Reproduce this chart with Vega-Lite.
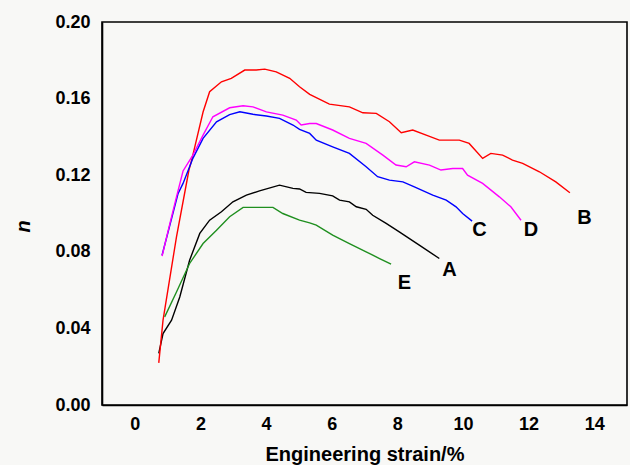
{
  "$schema": "https://vega.github.io/schema/vega-lite/v6.json",
  "width": 525,
  "height": 383,
  "autosize": {"type": "none"},
  "padding": {"left": 102, "top": 22, "right": 3, "bottom": 60},
  "background": "#f8f8f6",
  "config": {
    "view": {"stroke": "black", "strokeWidth": 1.6},
    "axis": {
      "grid": false,
      "ticks": false,
      "domainColor": "black",
      "domainWidth": 1.6,
      "labelFont": "Liberation Sans",
      "labelFontWeight": "bold",
      "labelFontSize": 18,
      "labelColor": "black",
      "titleFont": "Liberation Sans",
      "titleFontWeight": "bold",
      "titleFontSize": 20,
      "titleColor": "black"
    }
  },
  "datasets": {
    "curves": [
      {"c":"A","s":0.73,"n":0.027},{"c":"A","s":0.86,"n":0.0373},{"c":"A","s":1.12,"n":0.0443},{"c":"A","s":1.37,"n":0.0564},{"c":"A","s":1.67,"n":0.0756},{"c":"A","s":1.98,"n":0.0896},{"c":"A","s":2.28,"n":0.0965},{"c":"A","s":2.64,"n":0.1009},{"c":"A","s":2.99,"n":0.1061},{"c":"A","s":3.4,"n":0.1096},{"c":"A","s":3.8,"n":0.1118},{"c":"A","s":4.41,"n":0.1148},{"c":"A","s":4.82,"n":0.1131},{"c":"A","s":5.02,"n":0.1128},{"c":"A","s":5.22,"n":0.111},{"c":"A","s":5.63,"n":0.1105},{"c":"A","s":6.03,"n":0.1092},{"c":"A","s":6.24,"n":0.107},{"c":"A","s":6.54,"n":0.1061},{"c":"A","s":6.75,"n":0.1035},{"c":"A","s":7.05,"n":0.1022},{"c":"A","s":7.25,"n":0.0991},{"c":"A","s":7.66,"n":0.0948},{"c":"A","s":8.06,"n":0.0904},{"c":"A","s":8.67,"n":0.0835},{"c":"A","s":9.28,"n":0.0765},
      {"c":"B","s":0.73,"n":0.022},{"c":"B","s":0.86,"n":0.0443},{"c":"B","s":1.27,"n":0.0878},{"c":"B","s":1.65,"n":0.1227},{"c":"B","s":1.72,"n":0.127},{"c":"B","s":2.08,"n":0.153},{"c":"B","s":2.28,"n":0.1636},{"c":"B","s":2.64,"n":0.1688},{"c":"B","s":2.94,"n":0.1706},{"c":"B","s":3.35,"n":0.1749},{"c":"B","s":3.7,"n":0.1749},{"c":"B","s":3.96,"n":0.1754},{"c":"B","s":4.31,"n":0.174},{"c":"B","s":4.72,"n":0.1706},{"c":"B","s":5.02,"n":0.1662},{"c":"B","s":5.33,"n":0.1622},{"c":"B","s":5.93,"n":0.1571},{"c":"B","s":6.54,"n":0.1557},{"c":"B","s":6.95,"n":0.1526},{"c":"B","s":7.36,"n":0.1523},{"c":"B","s":7.76,"n":0.1479},{"c":"B","s":8.12,"n":0.1422},{"c":"B","s":8.47,"n":0.1436},{"c":"B","s":8.88,"n":0.1409},{"c":"B","s":9.28,"n":0.1383},{"c":"B","s":9.69,"n":0.1383},{"c":"B","s":9.89,"n":0.1383},{"c":"B","s":10.19,"n":0.1366},{"c":"B","s":10.6,"n":0.1288},{"c":"B","s":10.85,"n":0.1314},{"c":"B","s":11.21,"n":0.1305},{"c":"B","s":11.51,"n":0.1279},{"c":"B","s":11.82,"n":0.1262},{"c":"B","s":12.33,"n":0.1218},{"c":"B","s":12.83,"n":0.1165},{"c":"B","s":13.26,"n":0.1108},
      {"c":"C","s":0.83,"n":0.0782},{"c":"C","s":1.32,"n":0.1105},{"c":"C","s":1.47,"n":0.1157},{"c":"C","s":1.77,"n":0.1288},{"c":"C","s":2.08,"n":0.1392},{"c":"C","s":2.49,"n":0.1479},{"c":"C","s":2.89,"n":0.1516},{"c":"C","s":3.2,"n":0.1531},{"c":"C","s":3.6,"n":0.1518},{"c":"C","s":4.01,"n":0.1509},{"c":"C","s":4.41,"n":0.1497},{"c":"C","s":4.82,"n":0.1462},{"c":"C","s":5.02,"n":0.1439},{"c":"C","s":5.33,"n":0.1418},{"c":"C","s":5.53,"n":0.1383},{"c":"C","s":6.03,"n":0.1348},{"c":"C","s":6.54,"n":0.1314},{"c":"C","s":7.05,"n":0.1244},{"c":"C","s":7.4,"n":0.1192},{"c":"C","s":7.76,"n":0.1174},{"c":"C","s":8.17,"n":0.1165},{"c":"C","s":8.52,"n":0.1139},{"c":"C","s":9.08,"n":0.1096},{"c":"C","s":9.49,"n":0.107},{"c":"C","s":9.79,"n":0.1035},{"c":"C","s":9.99,"n":0.1},{"c":"C","s":10.28,"n":0.096},
      {"c":"D","s":0.83,"n":0.0777},{"c":"D","s":1.07,"n":0.0948},{"c":"D","s":1.27,"n":0.1087},{"c":"D","s":1.47,"n":0.1222},{"c":"D","s":1.77,"n":0.1305},{"c":"D","s":2.08,"n":0.1409},{"c":"D","s":2.38,"n":0.1505},{"c":"D","s":2.89,"n":0.1552},{"c":"D","s":3.3,"n":0.1563},{"c":"D","s":3.6,"n":0.1557},{"c":"D","s":4.01,"n":0.1531},{"c":"D","s":4.51,"n":0.1514},{"c":"D","s":4.92,"n":0.1488},{"c":"D","s":5.07,"n":0.1462},{"c":"D","s":5.33,"n":0.147},{"c":"D","s":5.53,"n":0.147},{"c":"D","s":6.03,"n":0.1436},{"c":"D","s":6.54,"n":0.1392},{"c":"D","s":7.05,"n":0.1366},{"c":"D","s":7.56,"n":0.1305},{"c":"D","s":7.96,"n":0.1253},{"c":"D","s":8.27,"n":0.1244},{"c":"D","s":8.52,"n":0.127},{"c":"D","s":8.98,"n":0.1253},{"c":"D","s":9.33,"n":0.1227},{"c":"D","s":9.69,"n":0.1235},{"c":"D","s":9.99,"n":0.1235},{"c":"D","s":10.14,"n":0.12},{"c":"D","s":10.6,"n":0.1157},{"c":"D","s":11.11,"n":0.1087},{"c":"D","s":11.46,"n":0.1035},{"c":"D","s":11.77,"n":0.0965},
      {"c":"E","s":0.91,"n":0.046},{"c":"E","s":1.27,"n":0.059},{"c":"E","s":1.67,"n":0.0739},{"c":"E","s":2.08,"n":0.0843},{"c":"E","s":2.49,"n":0.0913},{"c":"E","s":2.89,"n":0.0983},{"c":"E","s":3.3,"n":0.1032},{"c":"E","s":3.8,"n":0.1032},{"c":"E","s":4.21,"n":0.1032},{"c":"E","s":4.51,"n":0.1},{"c":"E","s":5.02,"n":0.0965},{"c":"E","s":5.33,"n":0.0951},{"c":"E","s":5.53,"n":0.0939},{"c":"E","s":6.03,"n":0.0887},{"c":"E","s":6.54,"n":0.0843},{"c":"E","s":7.05,"n":0.08},{"c":"E","s":7.46,"n":0.0765},{"c":"E","s":7.81,"n":0.0735}
    ],
    "labels": [
      {"c":"A","s":9.59,"n":0.0705},
      {"c":"B","s":13.7,"n":0.0974},
      {"c":"C","s":10.5,"n":0.0912},
      {"c":"D","s":12.07,"n":0.0912},
      {"c":"E","s":8.22,"n":0.0638}
    ],
    "xmajor": [{"s":0},{"s":2},{"s":4},{"s":6},{"s":8},{"s":10},{"s":12},{"s":14}],
    "xminor": [{"s":1},{"s":3},{"s":5},{"s":7},{"s":9},{"s":11},{"s":13}],
    "ymajor": [{"n":0.04},{"n":0.08},{"n":0.12},{"n":0.16}],
    "yminor": [{"n":0.02},{"n":0.06},{"n":0.1},{"n":0.14},{"n":0.18}]
  },
  "encoding": {
    "x": {
      "field": "s", "type": "quantitative",
      "scale": {"domain": [-1, 15], "nice": false, "zero": false},
      "axis": {
        "title": "Engineering strain/%",
        "values": [0,2,4,6,8,10,12,14],
        "labelPadding": 10,
        "titleY": 55,
        "titleBaseline": "alphabetic"
      }
    },
    "y": {
      "field": "n", "type": "quantitative",
      "scale": {"domain": [0, 0.2], "nice": false},
      "axis": {
        "title": "n",
        "titleFontStyle": "italic",
        "values": [0,0.04,0.08,0.12,0.16,0.2],
        "format": ".2f",
        "labelPadding": 12,
        "titleX": -79,
        "titleY": 204,
        "titleAngle": -90,
        "titleAlign": "center",
        "titleBaseline": "middle"
      }
    }
  },
  "layer": [
    {
      "data": {"name": "curves"},
      "mark": {"type": "line", "strokeWidth": 1.4},
      "encoding": {
        "color": {
          "field": "c", "type": "nominal",
          "scale": {"domain": ["A","B","C","D","E"], "range": ["#000000","#ff0000","#0000ff","#ff00ff","#1f8f1f"]},
          "legend": null
        },
        "detail": {"field": "c"}
      }
    },
    {
      "data": {"name": "labels"},
      "mark": {"type": "text", "font": "Liberation Sans", "fontWeight": "bold", "fontSize": 20, "baseline": "middle", "align": "center", "color": "black"},
      "encoding": {
        "text": {"field": "c"}
      }
    },
    {
      "data": {"name": "xmajor"},
      "mark": {"type": "rule", "color": "black", "strokeWidth": 1.4},
      "encoding": {
        "y": {
          "datum": 0, "type": "quantitative",
          "scale": {"domain": [0, 0.2], "nice": false},
          "axis": {
            "title": "n",
            "titleFontStyle": "italic",
            "values": [0,0.04,0.08,0.12,0.16,0.2],
            "format": ".2f",
            "labelPadding": 12,
            "titleX": -79,
            "titleY": 204,
            "titleAngle": -90,
            "titleAlign": "center",
            "titleBaseline": "middle"
          }
        },
        "y2": {"datum": 0.0047}
      }
    },
    {
      "data": {"name": "xminor"},
      "mark": {"type": "rule", "color": "black", "strokeWidth": 1.4},
      "encoding": {
        "y": {
          "datum": 0, "type": "quantitative",
          "scale": {"domain": [0, 0.2], "nice": false},
          "axis": {
            "title": "n",
            "titleFontStyle": "italic",
            "values": [0,0.04,0.08,0.12,0.16,0.2],
            "format": ".2f",
            "labelPadding": 12,
            "titleX": -79,
            "titleY": 204,
            "titleAngle": -90,
            "titleAlign": "center",
            "titleBaseline": "middle"
          }
        },
        "y2": {"datum": 0.0026}
      }
    },
    {
      "data": {"name": "ymajor"},
      "mark": {"type": "rule", "color": "black", "strokeWidth": 1.4},
      "encoding": {
        "x": {
          "datum": -1, "type": "quantitative",
          "scale": {"domain": [-1, 15], "nice": false, "zero": false},
          "axis": {
            "title": "Engineering strain/%",
            "values": [0,2,4,6,8,10,12,14],
            "labelPadding": 10,
            "titleY": 55,
            "titleBaseline": "alphabetic"
          }
        },
        "x2": {"datum": -0.726}
      }
    },
    {
      "data": {"name": "yminor"},
      "mark": {"type": "rule", "color": "black", "strokeWidth": 1.4},
      "encoding": {
        "x": {
          "datum": -1, "type": "quantitative",
          "scale": {"domain": [-1, 15], "nice": false, "zero": false},
          "axis": {
            "title": "Engineering strain/%",
            "values": [0,2,4,6,8,10,12,14],
            "labelPadding": 10,
            "titleY": 55,
            "titleBaseline": "alphabetic"
          }
        },
        "x2": {"datum": -0.848}
      }
    }
  ]
}
